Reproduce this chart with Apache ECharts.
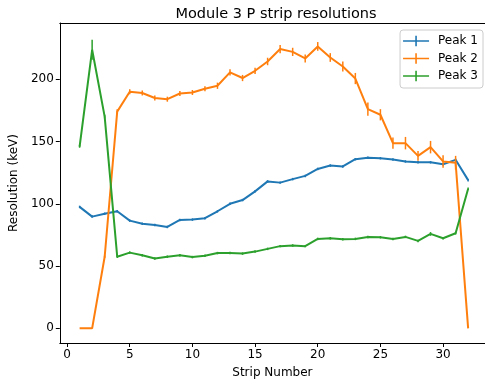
<!DOCTYPE html>
<html>
<head>
<meta charset="utf-8">
<script src="https://cdn.jsdelivr.net/npm/echarts@6/dist/echarts.min.js"></script>
<style>html,body{margin:0;padding:0;background:#fff}#c{width:485px;height:387px}</style>
</head>
<body>
<div id="c"></div>
<script>
const strips = [1,2,3,4,5,6,7,8,9,10,11,12,13,14,15,16,17,18,19,20,21,22,23,24,25,26,27,28,29,30,31,32];
const peak1 = [97.5,89.7,92,94,86.5,84,83,81.4,87,87.3,88.4,94,100,103,110,118,117,119.8,122.4,128,130.7,130,135.8,137,136.6,135.5,134,133.3,133.3,131.8,135.3,119];
const peak1Err = [1,1,1,1,1,1,1,1,1,1,1,1,1,1,1,1,1,1,1,1,1,1,1,1,1,1,1,1,1,1,1,1];
const peak2 = [0,0,57.5,174,190,189,185,184,188.6,189.4,192.4,194.8,205.5,201,206.8,214.3,224.3,222,216.7,226.4,217.5,210.3,200.6,176,171.5,148.7,148.7,138.5,145.5,134,133,0];
const peak2Err = [0,0,1,2,2,2,2,2,2,2,2,2.5,2.5,2.5,2.5,3,3.3,3.3,3.3,3.5,3.5,4,4.5,5.3,4.5,4.5,5,4,5,5,5.5,0];
const peak3 = [146,223.7,170,57.5,60.8,58.6,56,57.5,58.6,57.2,58.3,60.4,60.4,60,61.6,63.8,66,66.5,66,71.8,72.3,71.5,71.8,73.4,73.1,71.8,73.4,70.2,75.8,72.3,76.3,112];
const peak3Err = [1,8,1.5,1,1,1,1,1,1,1,1,1,1,1,1,1,1,1,1,1,1,1,1,1,1,1,1,1,1.5,1,1,1];
const xTicks = [0,5,10,15,20,25,30];
const yTicks = [0,50,100,150,200];

const colors = ['#1f77b4','#ff7f0e','#2ca02c'];
const names = ['Peak 1','Peak 2','Peak 3'];
const vals = [peak1, peak2, peak3];
const errs = [peak1Err, peak2Err, peak3Err];

const series = [];
for (let i = 0; i < 3; i++) {
  const c = colors[i];
  series.push({
    name: names[i], type: 'line', data: strips.map((s, k) => [s, vals[i][k]]),
    showSymbol: false, symbol: 'none', lineStyle: {color: c, width: 2}, itemStyle: {color: c},
    z: 2 + i * 2, animation: false
  });
  series.push({
    name: names[i], type: 'custom', z: 3 + i * 2, animation: false,
    data: strips.map((s, k) => [s, vals[i][k], errs[i][k]]),
    renderItem: function (params, api) {
      const x = api.value(0), y = api.value(1), e = api.value(2);
      const p1 = api.coord([x, y - e]), p2 = api.coord([x, y + e]);
      return {type: 'line', shape: {x1: p1[0], y1: p1[1], x2: p2[0], y2: p2[1]},
        style: {stroke: c, lineWidth: 1.5}};
    }
  });
}

const xMin = -0.58, xMax = -0.58 + 426 / 12.557;
const icon = 'path://M0,4.4 h26 v1.6 h-26 z M12.2,0 h1.6 v10.4 h-1.6 z';
const chart = echarts.init(document.getElementById('c'), null, {renderer: 'canvas'});
chart.setOption({
  animation: false,
  title: {text: 'Module 3 P strip resolutions', left: 271, top: 2, textAlign: 'center',
    textStyle: {fontFamily: 'DejaVu Sans', fontSize: 14.5, fontWeight: 'normal', color: '#000'}},
  grid: {left: 59, top: 23, width: 426, height: 320, show: false},
  legend: {
    orient: 'vertical', right: 2, top: 30,
    data: names.map((n, i) => ({name: n, icon: icon, itemStyle: {color: colors[i]}})),
    itemWidth: 26, itemHeight: 11, itemGap: 5.5,
    backgroundColor: '#fff', borderColor: '#ccc', borderWidth: 1, borderRadius: 3,
    padding: [5, 5, 6, 3],
    textStyle: {fontFamily: 'DejaVu Sans', fontSize: 12, color: '#000', lineHeight: 12, padding: [0, 0, 0, 4]}
  },
  xAxis: [{
    type: 'value', min: xMin, max: xMax,
    name: 'Strip Number', nameLocation: 'middle', nameGap: 24,
    nameTextStyle: {fontFamily: 'DejaVu Sans', fontSize: 12, color: '#000'},
    axisLine: {show: true, onZero: false, lineStyle: {color: '#000', width: 1}},
    axisTick: {show: true, length: 4, lineStyle: {color: '#000'}, customValues: xTicks},
    axisLabel: {fontFamily: 'DejaVu Sans', fontSize: 12, color: '#000', margin: 6, customValues: xTicks},
    splitLine: {show: false}
  }, {
    type: 'value', position: 'top', min: xMin, max: xMax,
    axisLine: {show: true, onZero: false, lineStyle: {color: '#000', width: 1}},
    axisTick: {show: false}, axisLabel: {show: false}, splitLine: {show: false}
  }],
  yAxis: {
    type: 'value', min: -11.8, max: 245.2,
    name: 'Resolution (keV)', nameLocation: 'middle', nameGap: 37, nameRotate: 90,
    nameTextStyle: {fontFamily: 'DejaVu Sans', fontSize: 12, color: '#000'},
    axisLine: {show: true, onZero: false, lineStyle: {color: '#000', width: 1}},
    axisTick: {show: true, length: 4, lineStyle: {color: '#000'}, customValues: yTicks},
    axisLabel: {fontFamily: 'DejaVu Sans', fontSize: 12, color: '#000', margin: 6, customValues: yTicks},
    splitLine: {show: false}
  },
  series: series
});
</script>
</body>
</html>
